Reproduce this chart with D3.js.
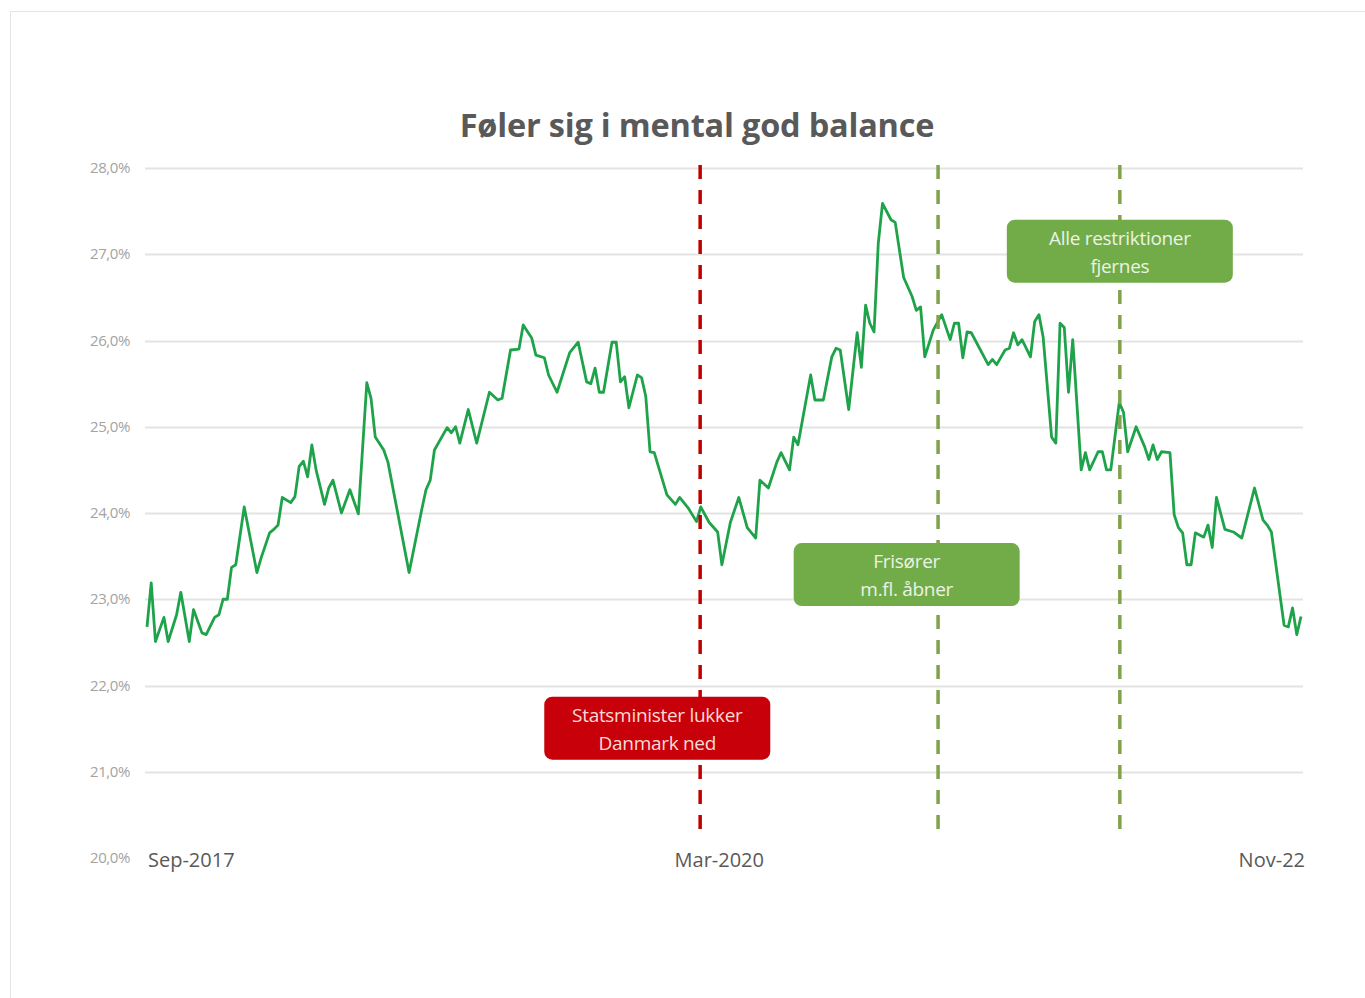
<!DOCTYPE html>
<html>
<head>
<meta charset="utf-8">
<script src="https://cdn.jsdelivr.net/npm/d3@7"></script>
<style>
body { margin: 0; background: #fff; }
</style>
</head>
<body>
<script>
var w = 1365;
var h = 998;

// weeks since the first measurement (week 0 = 4 Sep 2017) and share in %
var weeks = [0, 1, 2, 4, 5, 7, 8, 10, 11, 13, 14, 16, 17, 18, 19, 20, 21, 23, 26, 27,
    29, 30, 31, 32, 34, 35, 36, 37, 38, 39, 40, 42, 43, 44, 46, 48, 50, 52, 53, 54,
    56, 57, 62, 65, 66, 67, 68, 71, 72, 73, 74, 76, 78, 81, 83, 84, 86, 88, 89, 91,
    92, 94, 95, 97, 100, 102, 104, 105, 106, 107, 108, 110, 111, 112, 113, 114, 116, 117, 118, 119,
    120, 123, 125, 126, 128, 130, 131, 133, 135, 136, 138, 140, 142, 144, 145, 147, 149, 150, 152, 153,
    154, 157, 158, 160, 162, 163, 164, 166, 168, 169, 170, 171, 172, 173, 174, 176, 177, 179, 181, 182,
    183, 184, 186, 188, 190, 191, 192, 193, 194, 195, 199, 200, 201, 203, 204, 205, 206, 207, 209, 210,
    211, 212, 214, 215, 216, 217, 218, 219, 221, 222, 223, 225, 226, 227, 228, 230, 231, 232, 234, 236,
    237, 238, 239, 240, 242, 243, 244, 245, 246, 247, 248, 250, 251, 252, 253, 255, 257, 259, 262, 264,
    265, 266, 269, 270, 271, 272, 273];
var values = [22.68, 23.19, 22.51, 22.79, 22.51, 22.82, 23.08, 22.51, 22.88, 22.61, 22.59, 22.79, 22.82, 23.0, 23.0, 23.37, 23.40, 24.07, 23.31, 23.48,
    23.77, 23.81, 23.86, 24.18, 24.12, 24.19, 24.54, 24.60, 24.42, 24.79, 24.50, 24.10, 24.29, 24.38, 24.0, 24.27, 23.99, 25.51, 25.33, 24.88,
    24.73, 24.59, 23.31, 24.04, 24.27, 24.38, 24.73, 24.99, 24.93, 25.0, 24.81, 25.20, 24.81, 25.40, 25.31, 25.33, 25.89, 25.90, 26.18, 26.03,
    25.83, 25.80, 25.60, 25.40, 25.86, 25.98, 25.52, 25.50, 25.68, 25.40, 25.40, 25.98, 25.98, 25.52, 25.58, 25.22, 25.60, 25.57, 25.35, 24.71,
    24.70, 24.21, 24.10, 24.18, 24.06, 23.90, 24.07, 23.89, 23.78, 23.40, 23.89, 24.18, 23.83, 23.71, 24.38, 24.29, 24.59, 24.70, 24.50, 24.88,
    24.79, 25.60, 25.31, 25.31, 25.81, 25.91, 25.89, 25.20, 26.09, 25.69, 26.41, 26.20, 26.10, 27.13, 27.59, 27.40, 27.37, 26.73, 26.51, 26.35,
    26.39, 25.81, 26.12, 26.30, 26.01, 26.20, 26.20, 25.80, 26.10, 26.09, 25.72, 25.78, 25.72, 25.89, 25.91, 26.09, 25.95, 26.01, 25.81, 26.22,
    26.30, 26.04, 24.88, 24.81, 26.20, 26.15, 25.40, 26.01, 24.50, 24.70, 24.50, 24.71, 24.71, 24.50, 24.50, 25.28, 25.17, 24.71, 25.0, 24.77,
    24.62, 24.79, 24.62, 24.71, 24.70, 23.98, 23.83, 23.77, 23.40, 23.40, 23.77, 23.72, 23.86, 23.60, 24.18, 23.81, 23.78, 23.71, 24.29, 23.92,
    23.86, 23.78, 22.70, 22.68, 22.90, 22.59, 22.80];

var yTicks = [20, 21, 22, 23, 24, 25, 26, 27, 28];
var xLabels = [["2017-09-04", "Sep-2017", "start"], ["2020-04-07", "Mar-2020", "middle"], ["2022-11-28", "Nov-22", "end"]];

var eventDates = ["2020-03-08", "2021-04-06", "2022-02-01"];
var eventColors = ["#c00000", "#7fa24a", "#7fa24a"];
var boxColors = ["#c8000a", "#72ac48", "#72ac48"];
var boxTextColors = ["#f9dcd6", "#ebf3e4", "#ebf3e4"];
var boxTexts = [["Statsminister lukker", "Danmark ned"], ["Frisører", "m.fl. åbner"], ["Alle restriktioner", "fjernes"]];
var boxValues = [21.5, 23.28, 27.03];
var boxCenters = ["2019-12-28", "2021-02-13", "2022-02-01"];

var parse = d3.timeParse("%Y-%m-%d");
var start = parse("2017-09-04");
var dataset = [];
for (var i = 0; i < weeks.length; i++) {
    dataset.push([d3.timeDay.offset(start, weeks[i] * 7), values[i]]);
}

var x = d3.scaleTime()
    .domain([start, parse("2022-11-28")])
    .range([147, 1301]);
var y = d3.scaleLinear()
    .domain([20, 28])
    .range([858, 168]);

var svg = d3.select("body")
    .append("svg")
    .attr("width", w)
    .attr("height", h);

svg.append("rect")
    .attr("x", 10.5)
    .attr("y", 11.5)
    .attr("width", 1400)
    .attr("height", 1000)
    .attr("fill", "#fff")
    .attr("stroke", "#e4e4e4");

svg.append("text")
    .text("Føler sig i mental god balance")
    .attr("x", 697)
    .attr("y", 137)
    .attr("text-anchor", "middle")
    .attr("font-family", "Open Sans, sans-serif")
    .attr("font-weight", "bold")
    .attr("font-size", 32.5)
    .attr("letter-spacing", -0.2)
    .attr("fill", "#595959");

svg.selectAll(".grid")
    .data(yTicks.filter(function (d) { return d > 20; }))
    .enter()
    .append("line")
    .attr("class", "grid")
    .attr("x1", 145)
    .attr("x2", 1303)
    .attr("y1", function (d) { return Math.round(y(d)) + 0.5; })
    .attr("y2", function (d) { return Math.round(y(d)) + 0.5; })
    .attr("stroke", "#e3e3e3")
    .attr("stroke-width", 2);

svg.selectAll(".ytick")
    .data(yTicks)
    .enter()
    .append("text")
    .attr("class", "ytick")
    .text(function (d) { return d.toFixed(1).replace(".", ",") + "%"; })
    .attr("x", 130)
    .attr("y", function (d) { return y(d) + 5; })
    .attr("text-anchor", "end")
    .attr("font-family", "Open Sans, sans-serif")
    .attr("font-size", 15)
    .attr("letter-spacing", -0.4)
    .attr("fill", "#a3a3a3");

svg.selectAll(".xtick")
    .data(xLabels)
    .enter()
    .append("text")
    .attr("class", "xtick")
    .text(function (d) { return d[1]; })
    .attr("x", function (d) { return x(parse(d[0])) + (d[2] == "end" ? 4 : 1); })
    .attr("y", 867)
    .attr("text-anchor", function (d) { return d[2]; })
    .attr("font-family", "Open Sans, sans-serif")
    .attr("font-size", 20)
    .attr("fill", "#595959");

var line = d3.line()
    .x(function (d) { return x(d[0]); })
    .y(function (d) { return y(d[1]); });

svg.append("path")
    .datum(dataset)
    .attr("d", line)
    .attr("fill", "none")
    .attr("stroke", "#1fa34a")
    .attr("stroke-width", 2.8)
    .attr("stroke-linejoin", "round");

svg.selectAll(".event")
    .data(eventDates)
    .enter()
    .append("line")
    .attr("class", "event")
    .attr("x1", function (d) { return x(parse(d)); })
    .attr("x2", function (d) { return x(parse(d)); })
    .attr("y1", 165)
    .attr("y2", 840)
    .attr("stroke", function (d, i) { return eventColors[i]; })
    .attr("stroke-width", 3.5)
    .attr("stroke-dasharray", "14,11");

var boxes = svg.selectAll(".box")
    .data(boxTexts)
    .enter()
    .append("g")
    .attr("class", "box")
    .attr("transform", function (d, i) {
        return "translate(" + x(parse(boxCenters[i])) + "," + y(boxValues[i]) + ")";
    });

boxes.append("rect")
    .attr("x", -113)
    .attr("y", -32)
    .attr("width", 226)
    .attr("height", 63)
    .attr("rx", 8)
    .attr("fill", function (d, i) { return boxColors[i]; });

boxes.append("text")
    .text(function (d) { return d[0]; })
    .attr("y", -7)
    .attr("text-anchor", "middle")
    .attr("font-family", "Open Sans, sans-serif")
    .attr("font-size", 19)
    .attr("letter-spacing", -0.3)
    .attr("fill", function (d, i) { return boxTextColors[i]; });

boxes.append("text")
    .text(function (d) { return d[1]; })
    .attr("y", 21)
    .attr("text-anchor", "middle")
    .attr("font-family", "Open Sans, sans-serif")
    .attr("font-size", 19)
    .attr("letter-spacing", -0.3)
    .attr("fill", function (d, i) { return boxTextColors[i]; });
</script>
</body>
</html>
